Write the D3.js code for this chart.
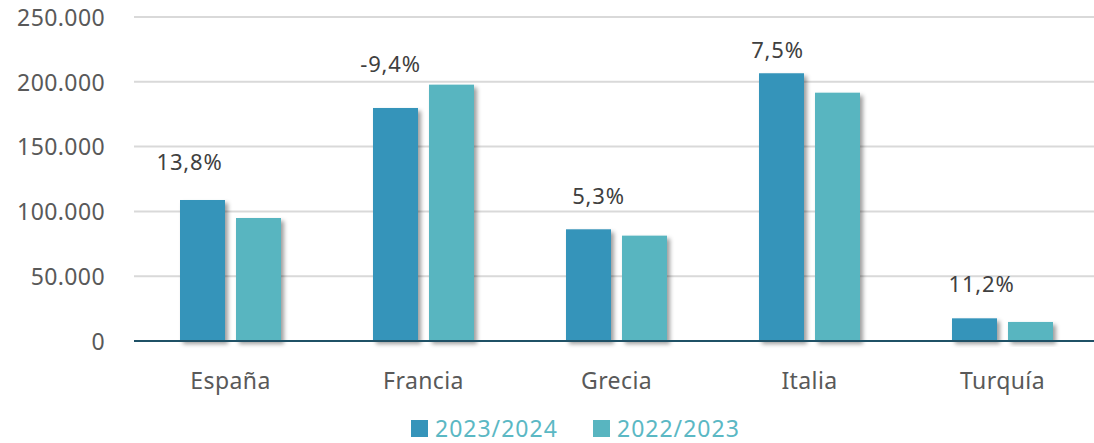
<!DOCTYPE html>
<html>
<head>
<meta charset="utf-8">
<script src="https://cdn.jsdelivr.net/npm/d3@7"></script>
<style>
	body { margin: 0; background: #fff; }
	svg { display: block; font-family: "Noto Sans", sans-serif; }
	.tick text { fill: #595959; }
</style>
</head>
<body>
<script>
(function(){
	// chart data
	var paises = ["España", "Francia", "Grecia", "Italia", "Turquía"];
	var series = ["2023/2024", "2022/2023"];
	var valores2324 = [108800, 179800, 86200, 206600, 17500];
	var valores2223 = [94900, 197800, 81300, 191600, 14700];
	var variacion = ["13,8%", "-9,4%", "5,3%", "7,5%", "11,2%"];
	var yTicks = [0, 50000, 100000, 150000, 200000, 250000];

	var colores = ["#3594BA", "#58B5C0"];

	window.onload = setChart();

	function setChart(){
		//frame dimensions
		var width = 1094,
			height = 443;
		var margin = {left: 134, right: -5, top: 17, bottom: 102};

		var svg = d3.select("body")
			.append("svg")
			.attr("width", width)
			.attr("height", height);

		//shadow filter for the bars
		var defs = svg.append("defs");
		defs.append("filter")
			.attr("id", "sombra")
			.attr("x", "-20%").attr("y", "-20%")
			.attr("width", "150%").attr("height", "150%")
			.append("feDropShadow")
			.attr("dx", 3)
			.attr("dy", 3)
			.attr("stdDeviation", 2.2)
			.attr("flood-color", "#000")
			.attr("flood-opacity", 0.38);

		var x0 = d3.scaleBand()
			.domain(paises)
			.range([margin.left, width - margin.right]);

		var bw = x0.bandwidth();
		var x1 = d3.scaleBand()
			.domain(series)
			.range([bw / 2 - 50.5, bw / 2 + 50.5])
			.paddingInner(11 / 56);

		var y = d3.scaleLinear()
			.domain([0, 250000])
			.range([height - margin.bottom, margin.top]);

		var fmt = function(d){
			return d3.format(",")(d).replace(/,/g, ".");
		};

		//gridlines
		svg.append("g")
			.selectAll("line")
			.data(yTicks.slice(1))
			.enter()
			.append("line")
			.attr("x1", margin.left)
			.attr("x2", width)
			.attr("y1", function(d){ return y(d); })
			.attr("y2", function(d){ return y(d); })
			.attr("stroke", "#D9D9D9")
			.attr("stroke-width", 2);

		//y axis labels
		var yAxis = svg.append("g")
			.attr("transform", "translate(" + 105 + ",0)")
			.call(d3.axisLeft(y).tickValues(yTicks).tickFormat(fmt).tickSize(0).tickPadding(0));
		yAxis.select(".domain").remove();
		yAxis.selectAll("text")
			.attr("font-size", 23)
			.attr("font-family", "Noto Sans")
			.attr("letter-spacing", 0.4)
			.attr("dy", "0.36em");

		//bars
		var tabla = paises.map(function(p, i){
			return {pais: p, vals: [
				{serie: series[0], v: valores2324[i]},
				{serie: series[1], v: valores2223[i]}
			]};
		});

		var grupos = svg.selectAll(".grupo")
			.data(tabla)
			.enter()
			.append("g")
			.attr("class", "grupo")
			.attr("transform", function(d){ return "translate(" + x0(d.pais) + ",0)"; });

		grupos.selectAll("rect")
			.data(function(d){ return d.vals; })
			.enter()
			.append("rect")
			.attr("x", function(d){ return x1(d.serie); })
			.attr("y", function(d){ return y(d.v); })
			.attr("width", x1.bandwidth())
			.attr("height", function(d){ return y(0) - y(d.v); })
			.attr("fill", function(d, i){ return colores[i]; })
			.attr("filter", "url(#sombra)");

		//baseline
		svg.append("line")
			.attr("x1", margin.left)
			.attr("x2", width)
			.attr("y1", y(0))
			.attr("y2", y(0))
			.attr("stroke", "#1F5166")
			.attr("stroke-width", 2);

		//x axis labels
		var xAxis = svg.append("g")
			.attr("transform", "translate(0," + y(0) + ")")
			.call(d3.axisBottom(x0).tickSize(0).tickPadding(0));
		xAxis.select(".domain").remove();
		xAxis.selectAll("text")
			.attr("font-size", 23)
			.attr("font-family", "Noto Sans")
			.attr("letter-spacing", 0.4)
			.attr("dy", "1.06em")
			.attr("y", 24);

		//variation labels (hand nudged like the original)
		var nudge = [[-13, -30], [-5, -36], [10, -25], [-4, -15], [7, -26]];
		svg.selectAll(".var")
			.data(variacion)
			.enter()
			.append("text")
			.attr("class", "var")
			.attr("x", function(d, i){ return x0(paises[i]) + x1(series[0]) + x1.bandwidth() / 2 + nudge[i][0]; })
			.attr("y", function(d, i){ return y(valores2324[i]) + nudge[i][1]; })
			.attr("text-anchor", "middle")
			.attr("font-size", 22)
			.attr("letter-spacing", 0.8)
			.attr("fill", "#404040")
			.text(function(d){ return d; });

		//legend
		var legX = [411, 593];
		var leyenda = svg.selectAll(".ley")
			.data(series)
			.enter()
			.append("g")
			.attr("class", "ley")
			.attr("transform", function(d, i){ return "translate(" + legX[i] + ",420)"; });
		leyenda.append("rect")
			.attr("width", 17)
			.attr("height", 17)
			.attr("fill", function(d, i){ return colores[i]; });
		leyenda.append("text")
			.attr("x", 24)
			.attr("y", 17)
			.attr("font-size", 23)
			.attr("letter-spacing", 1)
			.attr("fill", "#5BB8C4")
			.text(function(d){ return d; });
	};
})();
</script>
</body>
</html>
